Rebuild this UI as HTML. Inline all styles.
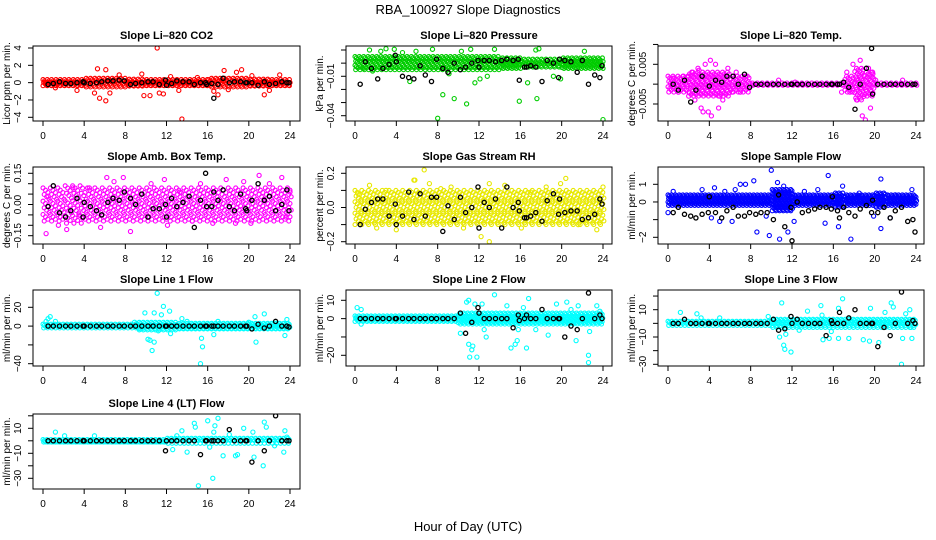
<!DOCTYPE html>
<html>
<head>
<meta charset="utf-8">
<style>
  html,body{margin:0;padding:0;background:#fff;}
  svg{display:block;font-family:"Liberation Sans",Arial,sans-serif;}
</style>
</head>
<body>
<svg id="chart" width="936" height="540" viewBox="0 0 936 540" xmlns="http://www.w3.org/2000/svg">
  <rect x="0" y="0" width="936" height="540" fill="#fff"/>
  <text x="468" y="14" text-anchor="middle" font-size="13">RBA_100927  Slope Diagnostics</text>
  <text x="468" y="531" text-anchor="middle" font-size="13">Hour of Day (UTC)</text>
  <g id="panels"></g>
</svg>
<script>
// ---------- shared data ----------
const xTicks = [0, 4, 8, 12, 16, 20, 24];
const blackX = [0.5,1.0,1.6,2.2,2.7,3.3,3.9,4.0,4.6,5.2,5.7,6.3,6.8,7.4,7.9,8.5,9.0,9.6,10.2,10.7,11.3,11.9,12.0,12.5,13.0,13.6,14.2,14.7,15.3,15.8,15.9,16.4,16.6,17.0,17.5,18.1,18.6,19.2,19.7,19.8,20.3,20.9,21.5,22.0,22.6,23.2,23.7,23.9];

// ---------- CO2 ----------
const co2Band = [0.35,0.35,0.35,0.35,0.5,0.5,0.5,0.5,0.4,0.4,0.35,0.35,0.35,0.35,0.35,0.35,0.5,0.5,0.5,0.5,0.4,0.4,0.35,0.35,0.35];
const co2OutX = [11.1,13.5,5.3,6.1,5.5,6.1,5.0,6.5,9.8,10.4,11.3,11.7,9.6,7.4,17.6,19.3,18.8,17.0,21.5,22.0,23.0,3.3,12.4,13.2,15.0,1.2,16.6,20.3,18.0];
const co2OutY = [4.0,-4.2,1.6,1.5,-1.8,-2.1,-1.2,-1.2,-1.5,-1.5,-1.2,-1.3,1.0,0.9,1.4,1.5,1.2,-1.4,-1.4,-0.9,0.9,-0.9,0.7,-0.9,0.6,-0.6,-1.0,0.8,-0.8];
const co2BlackY = [-0.2,-0.1,0.1,-0.1,-0.1,0,0.1,0,-0.1,0,0.1,0.2,0.2,0.3,0.2,-0.2,-0.1,0,0.1,0.1,-0.2,0.3,-0.3,-0.1,0.2,0.1,0.1,-0.2,0,0,-0.2,-0.1,-1.8,-0.2,0.5,0,0.1,0.1,0,0,0,-0.3,0.1,-0.2,-0.1,0.1,0,0];
const co2Ticks = [-4,-2,0,2,4];

// ---------- Pressure ----------
const presBand = [0.005,0.005,0.005,0.005,0.005,0.005,0.005,0.005,0.005,0.005,0.005,0.005,0.005,0.005,0.004,0.004,0.003,0.003,0.003,0.003,0.004,0.004,0.004,0.004,0.004];
const presOutX = [8.0,24.0,8.5,9.6,10.8,15.9,17.6,3.0,3.8,7.5,11.2,13.5,17.8,17.5,22.2,5.9,1.4,5.3,11.6,12.1,12.8,16.7,19.2,19.9,9.1,1.7,0.8,2.5,4.6,10.3];
const presOutY = [-0.042,-0.043,-0.024,-0.027,-0.031,-0.029,-0.027,0.011,0.0105,0.0105,0.0105,0.0105,0.011,0.010,0.009,0.009,0.010,-0.014,-0.015,-0.012,-0.010,-0.015,-0.010,-0.012,-0.008,-0.006,-0.004,0.009,0.008,0.009];
const presBlackY = [-0.016,0.001,-0.004,-0.012,-0.004,-0.001,0.006,0.001,-0.010,-0.011,-0.012,-0.002,-0.009,-0.014,0.003,-0.004,-0.007,0.000,-0.005,-0.003,0.000,0.002,-0.003,0.002,0.002,0.001,0.002,0.003,0.002,0.003,-0.013,-0.003,-0.003,-0.002,-0.003,-0.014,0.002,0.000,-0.011,0.003,0.002,0.001,-0.007,0.002,-0.016,-0.009,-0.011,-0.002];
const presTicks = [0.01,0.00,-0.01,-0.02,-0.03,-0.04];
const presLabels = ["","","-0.01","","","-0.04"];

// ---------- Li-820 Temp ----------
const tempBand = [0.002,0.002,0.003,0.003,0.003,0.003,0.002,0.002,0.0003,0.0003,0.0003,0.0003,0.0003,0.0003,0.0003,0.0003,0.0003,0.002,0.004,0.003,0.0003,0.0003,0.0003,0.0003,0.0003];
const tempOutX = [0.5,1.0,1.5,2.0,2.3,2.6,2.9,3.2,3.4,3.6,3.9,4.2,4.3,4.1,4.6,4.9,5.3,5.8,6.2,6.6,7.0,7.5,10.7,12.3,22.7,17.3,17.6,17.9,18.3,18.6,18.8,19.1,19.4,19.6,19.8,20.1,16.8,3.0,5.0,2.0];
const tempOutY = [0.0015,-0.002,0.002,-0.003,0.003,-0.004,0.004,-0.006,-0.007,0.005,-0.007,-0.008,0.0105,0.006,0.005,-0.006,-0.004,0.004,-0.002,0.003,-0.002,0.002,0.001,0.0005,0.001,0.003,-0.002,0.005,-0.004,0.006,-0.008,-0.009,0.004,-0.006,0.003,0.001,-0.002,0.0035,-0.003,0.002];
const tempBlackY = [0,-0.0015,0.001,-0.0045,-0.0015,0.002,0.011,-0.0005,0.001,0.0005,0.002,0.002,0,0.0025,-0.0008,0,0,0,0,0,0,0,0,0,0,0,0,0,0,0,0,0,0,0.0005,-0.0008,-0.0063,0,0.004,0.009,-0.0025,0,0,0,0,0,0,0,0];
const tempTicks = [0.01,0.005,0,-0.005];
const tempLabels = ["","0.005","","-0.005"];

// ---------- Amb Box Temp ----------
const ambBand = [0.08,0.08,0.09,0.09,0.08,0.08,0.08,0.08,0.08,0.08,0.08,0.08,0.08,0.08,0.08,0.08,0.08,0.08,0.08,0.08,0.08,0.08,0.08,0.08,0.08];
const ambOutX = [0.3,0.5,1.5,2.3,2.9,3.5,4.5,5.6,6.2,6.9,7.8,8.5,10.5,11.8,12.1,13.3,14.5,15.3,16.5,17.8,18.7,19.5,20.2,21.0,22.0,23.2,23.6,24.0];
const ambOutY = [-0.14,0.04,-0.10,-0.12,0.08,-0.05,0.08,-0.11,0.13,0.11,0.13,-0.13,0.10,0.12,-0.10,0.06,-0.08,0.10,-0.09,0.12,-0.09,0.11,-0.09,0.14,0.10,0.13,-0.06,0.06];
const ambBlackY = [-0.01,0.09,-0.04,-0.06,-0.03,0.03,-0.06,0.01,-0.01,-0.03,-0.05,0.01,0.03,0.02,0.06,0.03,0.00,0.05,-0.06,-0.02,-0.02,0.00,-0.06,0.03,-0.01,0.01,0.04,-0.11,0.02,0.15,-0.01,-0.01,0.06,0.02,0.07,-0.01,-0.03,0.05,-0.02,-0.03,0.02,0.10,0.02,0.04,-0.03,0.00,0.07,-0.03];
const ambTicks = [0.15,0.10,0.05,0.00,-0.05,-0.10,-0.15];
const ambLabels = ["0.15","","","0.00","","","-0.15"];

// ---------- Gas Stream RH ----------
const rhBand = [0.1,0.1,0.1,0.1,0.1,0.1,0.1,0.1,0.1,0.1,0.1,0.1,0.1,0.1,0.1,0.1,0.1,0.1,0.1,0.1,0.1,0.1,0.1,0.1,0.1];
const rhOutX = [6.7,5.8,20.4,12.2,13.0,4.0,2.1,5.7,7.2,13.0,14.5,0.3,23.4,24.0,1.4,9.3,16.1,18.5,21.6,10.5,3.0,8.3,17.0,19.9];
const rhOutY = [0.22,0.16,0.17,-0.17,-0.20,-0.13,-0.12,0.16,0.14,0.14,0.13,0.08,-0.13,0.12,0.13,0.12,-0.12,0.12,-0.10,-0.12,0.10,0.11,0.09,0.14];
const rhBlackY = [-0.10,-0.01,0.03,0.05,0.05,-0.05,0.02,-0.10,-0.05,0.09,-0.07,0.08,-0.05,0.06,0.06,-0.14,0.01,-0.07,0.06,-0.03,0.00,0.12,-0.12,0.03,0.00,0.05,-0.12,0.12,0.00,0.03,-0.02,-0.06,-0.06,-0.05,-0.03,-0.08,0.04,0.08,-0.04,0.05,-0.03,-0.02,-0.02,-0.07,-0.06,-0.04,0.05,0.02];
const rhTicks = [0.2,0.1,0.0,-0.1,-0.2];
const rhLabels = ["0.2","","0.0","","-0.2"];

// ---------- Sample Flow ----------
const sfBand = [0.3,0.3,0.3,0.3,0.3,0.3,0.3,0.3,0.3,0.3,0.6,0.6,0.3,0.3,0.3,0.3,0.4,0.3,0.3,0.3,0.4,0.3,0.3,0.3,0.3];
const sfOutX = [0.0,0.5,3.3,4.5,5.5,6.5,7.0,7.5,8.3,8.6,9.8,10.0,10.6,10.8,11.2,11.6,12.2,15.2,15.5,16.5,16.9,17.7,20.6,20.6,21.5,23.6,5.0,6.2,9.5,4.2,3.8,13.2,14.5,18.5,22.0,19.9];
const sfOutY = [-0.6,0.6,0.7,0.8,0.6,0.7,1.0,1.0,1.2,-1.7,-1.9,1.8,1.1,-2.1,0.9,-1.7,-1.1,-1.2,1.5,-1.4,0.9,-2.1,1.3,-1.5,-0.9,0.7,-1.1,-1.1,-0.8,-0.9,0.3,0.6,0.7,0.5,0.4,-0.8];
const sfBlackY = [-0.6,-0.3,-0.7,-0.8,-0.9,-0.7,-0.6,0.3,-0.6,-0.9,-0.5,-0.3,-0.8,-0.8,-0.6,-0.7,-0.6,-0.6,-1.0,0.4,-1.4,-0.3,-2.2,0.0,-0.6,-0.5,-0.4,-0.3,-0.3,-0.4,0.3,-0.5,-0.9,-0.3,-0.6,-0.8,-0.4,-0.2,-0.6,0.1,-0.6,-0.3,-0.9,-0.5,-0.3,-1.1,-1.0,-1.7];
const sfTicks = [1,0,-1,-2];
const sfLabels = ["1","0","","-2"];

// ---------- Line 1 Flow ----------
const l1Band = [2,2,2,2,2,2,2,2,2,4,4,4,4,3,3,3,3,3,3,3,3,3,3,3,3];
const l1OutX = [0.3,0.5,0.7,9.9,10.2,10.4,10.6,10.8,10.8,11.1,11.5,11.7,12.3,12.4,15.3,15.5,15.4,16.6,20.7,20.6,21.5,23.5,23.7,1.2,8.9,13.5,20.0,17.0,14.0,11.2,9.5];
const l1OutY = [5,8,10,14,-14,-15,-26,-17,14,35,12,21,16,-8,-40,-22,-13,-9,-17,10,13,-10,7,5,4,8,4,5,5,-5,-3];
const l1BlackY = [0,0,0,0,0,0,0,0,0,0,0,0,0,0,0,0,0,0,0,0,0,0,0,0,0,0,0,0,0,0,0,0,0,0,0,0,0,0,0,0,-3,2,-2,0,5,0,0,-1];
const l1Ticks = [20,0,-20,-40];
const l1Labels = ["20","0","","-40"];

// ---------- Line 2 Flow ----------
const l2Band = [1.5,1.5,1.5,1.5,1.5,1.5,1.5,1.5,1.5,1.5,3,3,3,3,3,3,3,3,3,3,3,3,3,3,3];
const l2OutX = [0.2,0.6,0.6,10.2,10.8,11.0,11.1,11.3,11.4,11.6,11.8,12.3,12.5,12.7,13.5,14.7,15.1,15.5,15.7,15.8,16.3,16.8,16.6,17.5,18.7,19.5,20.5,20.9,21.4,21.6,22.6,22.6,22.7,23.4,23.7,11.0];
const l2OutY = [6,5,-3,-8,9,-14,-21,-17,-15,8,-21,8,-6,-10,13,7,-16,-14,-12,-6,6,11,-16,-6,-9,8,9,5,-12,7,-20,-24,-7,7,4,10];
const l2BlackY = [0,0,0,0,0,0,0,0,0,0,0,0,0,0,0,0,0,0,3,-8,-2,6,3,0,0,0,0,0,-5,2,-1,0,2,0,0,5,0,0,0,0,-10,-4,-6,0,14,0,2,0];
const l2Ticks = [10,0,-10,-20];
const l2Labels = ["10","0","","-20"];

// ---------- Line 3 Flow ----------
const l3Band = [1.5,1.5,1.5,1.5,1.5,1.5,1.5,1.5,1.5,1.5,3,3,3,3,3,3,3,3,3,3,3,3,3,3,3];
const l3OutX = [1.2,2.8,11.0,11.2,11.3,11.9,10.8,11.4,12.7,13.5,14.8,14.9,15.0,15.6,15.8,16.5,16.5,16.9,17.5,18.9,19.5,19.6,20.4,21.0,21.6,21.8,22.6,22.7,23.0,23.4,23.6,23.5,5.0,3.2,9.7];
const l3OutY = [8,7,15,-16,-19,-21,-10,-8,-5,9,13,6,-12,-11,-6,11,-11,18,-11,-12,-13,11,-14,8,15,12,-30,-11,7,10,-11,-3,4,4,5];
const l3BlackY = [0,0,3,0,0,0,0,0,0,0,0,0,0,0,0,0,0,0,3,-5,-4,5,0,3,0,0,0,0,-9,2,0,0,8,0,4,10,0,0,0,0,-17,-3,-9,0,23,0,2,0];
const l3Ticks = [20,10,0,-10,-20,-30];
const l3Labels = ["","10","","-10","","-30"];

// ---------- Line 4 (LT) Flow ----------
const l4Band = [1,1,1,1,1,1,1,1,1,1,1,1,2,2,2,2,2,2,2,2,2,2,2,2,2];
const l4OutX = [1.2,2.1,5.0,12.6,13.0,13.5,14.0,14.7,14.8,15.1,16.0,16.2,16.5,16.6,16.7,17.0,17.5,18.1,18.7,18.9,19.5,20.4,20.5,21.5,21.4,21.7,22.5,23.4,23.5,23.7];
const l4OutY = [7,4,4,-7,4,8,-9,14,11,-36,16,-5,-30,7,12,18,-12,5,-12,-11,10,7,-13,15,-20,11,-4,-9,8,3];
const l4BlackY = [0,0,0,0,0,0,0,0,0,0,0,0,0,0,0,0,0,0,0,0,0,-8,0,0,0,0,0,0,-11,0,0,0,0,0,0,9,0,0,0,0,-17,0,-8,0,20,0,0,0];
const l4Ticks = [20,10,0,-10,-20,-30];
const l4Labels = ["","10","","-10","","-30"];

// ---------- layout (pixel geometry, not data) ----------
const cols = [
  {left:33, right:300, x0:43, x24:290},
  {left:346, right:612, x0:355, x24:603},
  {left:658, right:924, x0:668, x24:916}
];
const rows = [{top:46,bottom:121},{top:167,bottom:244},{top:290,bottom:366},{top:414,bottom:489}];

const panels = [
  {name:"co2",  title:"Slope Li\u2013820 CO2", ylab:"Licor ppm per min.", col:0,row:0,color:"#ff0000", band:co2Band, center:0, ox:co2OutX, oy:co2OutY, by:co2BlackY, ticks:co2Ticks, labels:co2Ticks.map(String), cal:[4,48,-4,117.3], xStep:0.14, yGap:4},
  {name:"pressure", title:"Slope Li\u2013820 Pressure", ylab:"kPa per min.", col:1,row:0,color:"#00cc00", band:presBand, center:0.0, ox:presOutX, oy:presOutY, by:presBlackY, ticks:presTicks, labels:presLabels, cal:[0.01,50,-0.04,115.7], xStep:0.14, yGap:4},
  {name:"li820-temp", title:"Slope Li\u2013820 Temp.", ylab:"degrees C per min.", col:2,row:0,color:"#ff00ff", band:tempBand, center:0, ox:tempOutX, oy:tempOutY, by:tempBlackY, ticks:tempTicks, labels:tempLabels, cal:[0.005,64.3,-0.005,104], xStep:0.16, yGap:5},
  {name:"amb-box-temp", title:"Slope Amb. Box Temp.", ylab:"degrees C per min.", col:0,row:1,color:"#ff00ff", band:ambBand, center:0, ox:ambOutX, oy:ambOutY, by:ambBlackY, ticks:ambTicks, labels:ambLabels, cal:[0.15,173.3,-0.15,235.7], xStep:0.24, yGap:7},
  {name:"gas-stream-rh", title:"Slope Gas Stream RH", ylab:"percent per min.", col:1,row:1,color:"#e8e800", band:rhBand, center:0, ox:rhOutX, oy:rhOutY, by:rhBlackY, ticks:rhTicks, labels:rhLabels, cal:[0.2,173.3,-0.2,241.7], xStep:0.22, yGap:6},
  {name:"sample-flow", title:"Slope Sample Flow", ylab:"ml/min per min.", col:2,row:1,color:"#0000ff", band:sfBand, center:0.1, ox:sfOutX, oy:sfOutY, by:sfBlackY, ticks:sfTicks, labels:sfLabels, cal:[1,184.3,-2,237.3], xStep:0.12, yGap:3.5},
  {name:"line1-flow", title:"Slope Line 1 Flow", ylab:"ml/min per min.", col:0,row:2,color:"#00ffff", band:l1Band, center:0, ox:l1OutX, oy:l1OutY, by:l1BlackY, ticks:l1Ticks, labels:l1Labels, cal:[20,307.3,-40,363.7], xStep:0.13, yGap:3.5},
  {name:"line2-flow", title:"Slope Line 2 Flow", ylab:"ml/min per min.", col:1,row:2,color:"#00ffff", band:l2Band, center:0, ox:l2OutX, oy:l2OutY, by:l2BlackY, ticks:l2Ticks, labels:l2Labels, cal:[10,300.3,-20,355.3], xStep:0.13, yGap:3.5},
  {name:"line3-flow", title:"Slope Line 3 Flow", ylab:"ml/min per min.", col:2,row:2,color:"#00ffff", band:l3Band, center:0, ox:l3OutX, oy:l3OutY, by:l3BlackY, ticks:l3Ticks, labels:l3Labels, cal:[10,309.7,-30,364.3], xStep:0.13, yGap:3.5},
  {name:"line4-flow", title:"Slope Line 4 (LT) Flow", ylab:"ml/min per min.", col:0,row:3,color:"#00ffff", band:l4Band, center:0, ox:l4OutX, oy:l4OutY, by:l4BlackY, ticks:l4Ticks, labels:l4Labels, cal:[10,428.3,-30,478.3], xStep:0.13, yGap:3.5}
];

const NS = "http://www.w3.org/2000/svg";
function mk(tag, attrs, parent){
  const e = document.createElementNS(NS, tag);
  for (const k in attrs) e.setAttribute(k, attrs[k]);
  parent.appendChild(e);
  return e;
}
const root = document.getElementById('panels');

panels.forEach(p => {
  const c = cols[p.col], r = rows[p.row];
  const xs = h => c.x0 + (c.x24 - c.x0) * h / 24;
  const [v1, p1, v2, p2] = p.cal;
  const ys = v => p1 + (v - v1) * (p2 - p1) / (v2 - v1);

  const g = mk('g', {}, root);
  
  

  const clipId = 'clip-' + p.name;
  const cp = mk('clipPath', {id: clipId}, g);
  mk('rect', {x: c.left, y: r.top, width: c.right - c.left, height: r.bottom - r.top}, cp);

  const pts = mk('g', {'clip-path': 'url(#' + clipId + ')', fill: 'none', 'stroke-width': '1.1'}, g);
  
  

  // textured band of colored points from hourly band half-widths
  const band = mk('g', {stroke: p.color}, pts);
  
  
  let col = 0;
  for (let h = 0; h <= 24.001; h += p.xStep, col++) {
    const half = p.band[Math.min(24, Math.floor(h))];
    const pyTop = Math.min(ys(p.center + half), ys(p.center - half));
    const span = Math.abs(ys(p.center - half) - ys(p.center + half));
    const n = Math.max(1, Math.round(span / p.yGap));
    const off = (col % 3) * p.yGap / 3;
    for (let k = 0; k <= n; k++) {
      let py = pyTop + span * k / n + off;
      if (py > pyTop + span) continue;
      const dx = ((k % 2) ? 0.5 : 0) * p.xStep;
      mk('circle', {cx: xs(h + dx).toFixed(1), cy: py.toFixed(1), r: 2}, band);
    }
  }
  // colored outliers
  const og = mk('g', {stroke: p.color}, pts);
  
  
  p.ox.forEach((x, i) => {
    const ci = mk('circle', {cx: xs(x).toFixed(1), cy: ys(p.oy[i]).toFixed(1), r: 2.1}, og);
    
    
  });
  // black points
  const bg = mk('g', {stroke: '#000', 'stroke-width': '1.3'}, pts);
  
  
  blackX.forEach((x, i) => {
    const ci = mk('circle', {cx: xs(x).toFixed(1), cy: ys(p.by[i]).toFixed(1), r: 2.1}, bg);
    
    
  });

  // box
  const box = mk('rect', {x: c.left, y: r.top, width: c.right - c.left, height: r.bottom - r.top, fill: 'none', stroke: '#000', 'stroke-width': 1}, g);
  
  

  // title
  const t = mk('text', {x: (c.left + c.right) / 2, y: r.top - 7, 'text-anchor': 'middle', 'font-size': 11, 'font-weight': 'bold'}, g);
  t.textContent = p.title;
  
  

  // x axis
  const xa = mk('g', {}, g);
  
  
  mk('line', {x1: xs(0), x2: xs(24), y1: r.bottom, y2: r.bottom, stroke: '#000'}, xa);
  xTicks.forEach(v => {
    mk('line', {x1: xs(v), x2: xs(v), y1: r.bottom, y2: r.bottom + 5, stroke: '#000'}, xa);
    const tl = mk('text', {x: xs(v), y: r.bottom + 18, 'text-anchor': 'middle', 'font-size': 10}, xa);
    tl.textContent = String(v);
    
    
  });

  // y axis
  const ya = mk('g', {}, g);
  
  
  mk('line', {x1: c.left, x2: c.left, y1: ys(p.ticks[0]), y2: ys(p.ticks[p.ticks.length - 1]), stroke: '#000'}, ya);
  p.ticks.forEach((v, i) => {
    const y = ys(v);
    mk('line', {x1: c.left - 5, x2: c.left, y1: y, y2: y, stroke: '#000'}, ya);
    const lab = p.labels[i];
    if (lab) {
      const lx = c.left - 12;
      const tl = mk('text', {x: lx, y: y, 'text-anchor': 'middle', 'font-size': 10, transform: 'rotate(-90 ' + lx + ' ' + y + ')'}, ya);
      tl.textContent = lab.replace('-', '\u2212');
      
      
    }
  });
  const ly = (r.top + r.bottom) / 2, lx = c.left - 23;
  const yl = mk('text', {x: lx, y: ly, 'text-anchor': 'middle', 'font-size': 10, transform: 'rotate(-90 ' + lx + ' ' + ly + ')'}, g);
  yl.textContent = p.ylab;
  
  
});
</script>
</body>
</html>
